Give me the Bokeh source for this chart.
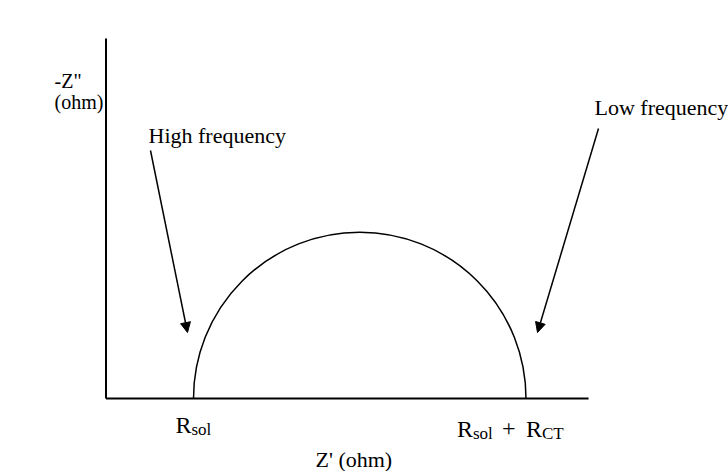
import numpy as np
from bokeh.plotting import figure
from bokeh.models import Range1d, Arrow, NormalHead, Label
from bokeh.embed import file_html
from bokeh.resources import INLINE

# Nyquist plot of a simple Randles cell (schematic, ohm)
R_SOL = 20.0          # solution resistance
R_CT = 76.0           # charge-transfer resistance
Z_RE_MAX = 110.3      # length of the Z' axis
Z_IM_MAX = 82.3       # length of the -Z'' axis

axis_titles = ['-Z"', "(ohm)"]
x_title = "Z' (ohm)"
annotations = ["High frequency", "Low frequency"]

W, H = 728, 471
PX = 4.375            # pixels per ohm (same on both axes so the arc is round)
X0, Y0 = 105.5, 398   # canvas position of the origin

p = figure(width=W, height=H, output_backend="svg", toolbar_location=None,
           x_range=Range1d(-X0 / PX, (W - X0) / PX),
           y_range=Range1d(-(H - Y0) / PX, Y0 / PX),
           x_axis_location=None, y_axis_location=None, min_border=0)
p.grid.visible = False
p.outline_line_color = None
p.background_fill_color = "white"
p.border_fill_color = "white"

INK = "black"
FONT = "Liberation Serif"
FS = 22
TICK = 24
SUB = 17

# axes
p.segment(x0=[0, 0], y0=[0, 0], x1=[Z_RE_MAX, 0], y1=[0, Z_IM_MAX],
          line_color=INK, line_width=2)

# semicircle between R_sol and R_sol + R_CT
p.arc(x=[R_SOL + R_CT / 2], y=[0], radius=R_CT / 2,
      start_angle=0, end_angle=np.pi, line_color=INK, line_width=1.5)


def d(px, py):
    """canvas pixel -> data coordinates"""
    return (px - X0) / PX, (Y0 - py) / PX


def label(px, py, text, size=FS, **kw):
    x, y = d(px, py)
    p.add_layout(Label(x=x, y=y, text=text, text_font=FONT,
                       text_font_size=f"{size}px", text_color=INK,
                       text_baseline="alphabetic", **kw))


# y-axis title, left of the axis
label(54, 80, axis_titles[0], size=20)
label(54, 101, axis_titles[1], size=20)

# x-axis title
label(315, 459, x_title)

# tick labels with subscripts, anchored on the resistances
xs = X0 + R_SOL * PX
label(xs - 18, 424, "R", size=TICK)
label(xs - 2, 429, "sol", size=SUB)
xe = X0 + (R_SOL + R_CT) * PX
label(xe - 69, 428, "R", size=TICK)
label(xe - 53, 433, "sol", size=SUB)
label(xe - 24, 428, "+", size=TICK)
label(xe, 428, "R", size=TICK)
label(xe + 16, 433, "CT", size=SUB)

# frequency annotations with arrows
label(148, 135, annotations[0])
label(594, 107, annotations[1])

for (sx, sy), (ex, ey) in [((150, 150), (187, 332)), ((598, 128), (537, 332))]:
    x0, y0 = d(sx, sy)
    x1, y1 = d(ex, ey)
    p.add_layout(Arrow(x_start=x0, y_start=y0, x_end=x1, y_end=y1,
                       line_color=INK, line_width=1.5,
                       end=NormalHead(size=10, fill_color=INK, line_color=INK)))

open("out.html", "w").write(file_html(p, INLINE))
